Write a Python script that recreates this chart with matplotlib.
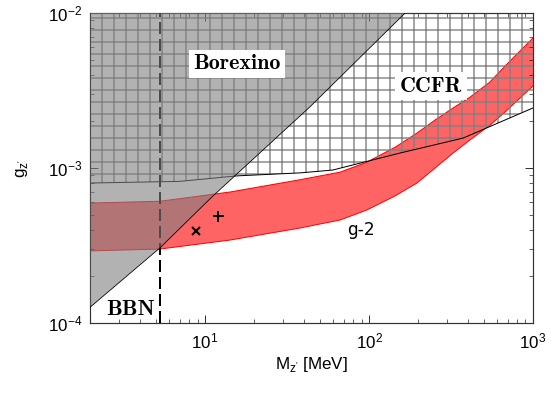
import numpy as np
import matplotlib
matplotlib.use("Agg")
import matplotlib.pyplot as plt

plt.rcParams['font.family'] = ['Liberation Sans', 'DejaVu Sans']
plt.rcParams['hatch.linewidth'] = 1.4

# Borexino bound (excluded above)
borex_M = [2.0, 5.3, 11.0, 43.6, 166.0]
borex_g = [1.27e-4, 3.05e-4, 6.5e-4, 2.48e-3, 1.0e-2]

# CCFR bound (excluded above)
ccfr_M = [2.0, 7.0, 15.7, 37.9, 60.0, 155.0, 375.0, 1000.0]
ccfr_g = [8.0e-4, 8.2e-4, 8.9e-4, 9.3e-4, 9.7e-4, 1.25e-3, 1.56e-3, 2.44e-3]

# g-2 preferred band
g2_M = [2.0, 5.3, 14.2, 37.9, 66.6, 97.0, 144.0, 196.0, 253.0, 326.0,
        414.0, 547.0, 676.0, 1000.0]
g2_low = [2.92e-4, 3.0e-4, 3.43e-4, 4.1e-4, 4.62e-4, 5.36e-4, 6.6e-4, 8.0e-4,
          1.0e-3, 1.25e-3, 1.52e-3, 1.89e-3, 2.30e-3, 3.38e-3]
g2_up = [5.94e-4, 6.1e-4, 7.0e-4, 8.4e-4, 9.4e-4, 1.09e-3, 1.36e-3, 1.68e-3,
         2.04e-3, 2.44e-3, 2.87e-3, 3.59e-3, 4.55e-3, 6.9e-3]

bbn_M = 5.3
cross_pt = (8.8, 3.93e-4)
plus_pt = (12.0, 4.9e-4)

fig = plt.figure(figsize=(551 / 72, 393 / 72), dpi=72)
ax = fig.add_axes([0.1642, 0.1781, 0.8031, 0.7888])
ax.set_xscale('log')
ax.set_yscale('log')
ax.set_xlim(2, 1000)
ax.set_ylim(1e-4, 1e-2)

# g-2 band
ax.fill_between(g2_M, g2_low, g2_up, facecolor='#ff6464', lw=0, zorder=1)
ax.plot(g2_M, g2_low, color='red', lw=1, zorder=1.1)
ax.plot(g2_M, g2_up, color='red', lw=1, zorder=1.1)

# CCFR hatched region
ax.fill_between(ccfr_M, ccfr_g, 1e-2, facecolor='none', edgecolor='#808080',
                hatch='+', lw=0, zorder=2)
ax.plot(ccfr_M, ccfr_g, color='black', lw=1, zorder=2.1)

# BBN dashed line
ax.axvline(bbn_M, color='black', lw=2, dashes=(6, 2.5), zorder=3)

# Borexino grey overlay
ax.fill_between(borex_M, borex_g, 1e-2, facecolor=(0.5, 0.5, 0.5), alpha=0.6,
                lw=0, zorder=4)
ax.plot(borex_M, borex_g, color='black', lw=0.8, zorder=4.1)

# markers
ax.plot(*cross_pt, marker='x', color='black', ms=8, mew=2, zorder=6)
ax.plot(*plus_pt, marker='+', color='black', ms=11, mew=2, zorder=6)

serif_bold = dict(family=['cmb10', 'DejaVu Serif'], weight='bold', fontsize=22)
box = dict(facecolor='white', edgecolor='none', boxstyle='square,pad=0.2')
ax.text(15.7, 4.69e-3, 'Borexino', ha='center', va='center', bbox=box,
        zorder=7, **serif_bold)
ax.text(239, 3.38e-3, 'CCFR', ha='center', va='center', bbox=box,
        zorder=7, **serif_bold)
ax.text(3.53, 1.23e-4, 'BBN', ha='center', va='center', zorder=7, **serif_bold)
ax.text(89, 3.98e-4, 'g-2', ha='center', va='center', fontsize=17,
        family='DejaVu Sans', zorder=7)

ax.tick_params(which='both', direction='in', top=True, right=True,
               labelsize=17, pad=8)
ax.tick_params(which='major', length=8)
ax.tick_params(which='minor', length=4)
for s in ax.spines.values():
    s.set_linewidth(1.2)
    s.set_color('#333333')

ax.set_xlabel(r"M$_{\mathregular{z'}}$ [MeV]", fontsize=17, labelpad=4)
ax.set_ylabel(r"g$_{\mathregular{z'}}$", fontsize=17, labelpad=18)

fig.savefig('out.png', dpi=72)
